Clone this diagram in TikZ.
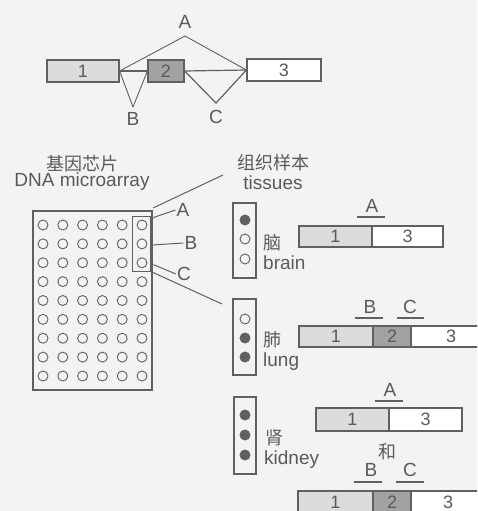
\documentclass[tikz,border=0pt]{standalone}
\usepackage{fontspec}
\setmainfont{Liberation Sans}
\newfontfamily\cjk{Noto Sans CJK SC}
\definecolor{bg}{HTML}{F3F3F1}
\definecolor{ink}{HTML}{606060}
\definecolor{txt}{HTML}{5A5A5A}
\definecolor{exl}{HTML}{DCDCDA}
\definecolor{exd}{HTML}{A2A2A0}
\begin{document}
\begin{tikzpicture}[x=1pt,y=-1pt,
  lbl/.style={text=txt,font=\fontsize{19}{19}\selectfont,inner sep=1pt},
  cjklbl/.style={text=txt,font=\cjk\fontsize{18}{18}\selectfont,inner sep=1pt},
  exon/.style={draw=ink,line width=1.2pt,minimum height=22pt,inner sep=0pt,text=txt,font=\fontsize{18}{18}\selectfont},
  link/.style={draw=ink,line width=1.2pt},
  bar/.style={draw=ink,line width=2.6pt},
  spot/.style={circle,draw=ink,line width=0.9pt,minimum size=10pt,inner sep=0pt},
  fspot/.style={spot,fill=ink},
  frame/.style={draw=ink,line width=1.3pt,inner sep=0pt},
  tdot/.style={circle,fill=ink,minimum size=3.5pt,inner sep=0pt}]
\useasboundingbox (0,0) rectangle (477,511);
\fill[bg] (0,0) rectangle (477,511);
\clip (0,0) rectangle (477,511);

% ---- top gene model ----
\node[exon,fill=exl,minimum width=72pt] (e1) at (83,71) {1};
\node[exon,fill=exd,minimum width=36pt] (e2) at (166,71) {2};
\node[exon,fill=white,minimum width=74pt] (e3) at (284,70) {3};
\draw[link] (e1.east) -- (e2.west);
\draw[link] (e2.east) -- (e3.west);
\coordinate (apA) at (185,36);
\coordinate (apB) at (133,107);
\coordinate (apC) at (216,103);
\draw[link,line width=0.9pt] (e1.east) -- (apA) -- (e3.west);
\draw[link,line width=0.9pt] (e1.east) -- (apB) -- (e2.west);
\draw[link] (e2.east) -- (apC) -- (e3.west);
\node[lbl] (tA) at (185,22) {A};
\node[lbl] (tB) at (133,119) {B};
\node[lbl] (tC) at (216,117) {C};

% ---- microarray ----
\node[cjklbl] (chipzh) at (82,164) {基因芯片};
\node[lbl] (chipen) at (82,182) {DNA microarray};
\node[frame,minimum width=119pt,minimum height=179pt] (chip) at (92.5,300.5) {};
\foreach \i in {0,...,5}
  \foreach \j in {0,...,8}
    \node[spot] (s\i\j) at ({43+19.8*\i},{225+18.875*\j}) {};
\node[draw=ink,line width=1pt,inner sep=0pt,minimum width=18pt,minimum height=55pt] (sel) at (141,243.5) {};
\node[tdot] (pA) at (152,218) {};
\node[tdot] (pB) at (152,245) {};
\node[tdot] (pC) at (152,264) {};
\node[lbl] (lA) at (183,210) {A};
\node[lbl] (lB) at (191,243) {B};
\node[lbl] (lC) at (184,274) {C};
\draw[link,line width=1pt] (pA) -- (lA.west);
\draw[link,line width=1pt] (pB) -- (lB.west);
\draw[link,line width=1pt] (pC) -- (lC.west);
\coordinate (f1a) at (153,208);
\coordinate (f1b) at (223,175);
\coordinate (f2a) at (152,272);
\coordinate (f2b) at (222,304);
\draw[link,line width=1pt] (f1a) -- (f1b);
\draw[link,line width=1pt] (f2a) -- (f2b);

% ---- tissues ----
\node[cjklbl] (tiszh) at (273,163) {组织样本};
\node[lbl] (tisen) at (273,183) {tissues};

% brain
\node[frame,minimum width=23pt,minimum height=75pt] (brain) at (244.5,240.5) {};
\node[fspot] (b1) at (245,220) {};
\node[spot] (b2) at (245,239) {};
\node[spot] (b3) at (245,259) {};
\node[cjklbl,anchor=west] (brzh) at (262,243) {脑};
\node[lbl,anchor=west] (bren) at (262,263) {brain};

% lung
\node[frame,minimum width=23pt,minimum height=76pt] (lung) at (244.5,337) {};
\node[spot] (g1) at (245,319) {};
\node[fspot] (g2) at (245,338) {};
\node[fspot] (g3) at (245,357) {};
\node[cjklbl,anchor=west] (lgzh) at (262,340) {肺};
\node[lbl,anchor=west] (lgen) at (262,362) {lung};

% kidney
\node[frame,minimum width=22pt,minimum height=77pt] (kid) at (245,435.5) {};
\node[fspot] (k1) at (245,415) {};
\node[fspot] (k2) at (245,435) {};
\node[fspot] (k3) at (245,455) {};
\node[cjklbl,anchor=west] (kdzh) at (264,438) {肾};
\node[lbl,anchor=west] (kden) at (263,460) {kidney};

% ---- transcripts ----
% brain: 1-3 (A)
\node[exon,fill=exl,minimum width=73pt,minimum height=21pt] (r1) at (335.5,236.5) {1};
\node[exon,fill=white,minimum width=71pt,minimum height=21pt] (r3) at (407.5,236.5) {3};
\coordinate (rAa) at (357,217); \coordinate (rAb) at (385,217);
\draw[bar] (rAa) -- (rAb);
\node[lbl] (rA) at (372,206) {A};

% lung: 1-2-3 (B, C)
\node[exon,fill=exl,minimum width=74pt,minimum height=21pt] (u1) at (336,336.5) {1};
\node[exon,fill=exd,minimum width=38pt,minimum height=21pt] (u2) at (392,336.5) {2};
\node[exon,fill=white,minimum width=70pt,minimum height=21pt,text width=62pt,align=left] (u3) at (446,336.5) {\hspace{31pt}3};
\coordinate (uBa) at (355,318); \coordinate (uBb) at (383,318);
\coordinate (uCa) at (397,318); \coordinate (uCb) at (424,318);
\draw[bar] (uBa) -- (uBb);
\draw[bar] (uCa) -- (uCb);
\node[lbl] (uB) at (370,307) {B};
\node[lbl] (uC) at (410,307) {C};

% kidney: 1-3 (A) and 1-2-3 (B, C)
\node[exon,fill=exl,minimum width=73pt,minimum height=23pt] (k1e) at (352.5,419.5) {1};
\node[exon,fill=white,minimum width=73pt,minimum height=23pt] (k3e) at (425.5,419.5) {3};
\coordinate (kAa) at (375,401); \coordinate (kAb) at (403,401);
\draw[bar] (kAa) -- (kAb);
\node[lbl] (kA) at (390,390) {A};
\node[cjklbl] (he) at (387,452) {和};

\node[exon,fill=exl,minimum width=75pt,minimum height=26pt] (v1) at (335.5,504) {\raisebox{4pt}{1}};
\node[exon,fill=exd,minimum width=38pt,minimum height=26pt] (v2) at (392,504) {\raisebox{4pt}{2}};
\node[exon,fill=white,minimum width=70pt,minimum height=26pt,text width=62pt,align=left] (v3) at (446,504) {\hspace{28pt}\raisebox{4pt}{3}};
\coordinate (vBa) at (354,482); \coordinate (vBb) at (382,482);
\coordinate (vCa) at (396,482); \coordinate (vCb) at (424,482);
\draw[bar] (vBa) -- (vBb);
\draw[bar] (vCa) -- (vCb);
\node[lbl] (vB) at (371,470) {B};
\node[lbl] (vC) at (410,470) {C};
\end{tikzpicture}
\end{document}
